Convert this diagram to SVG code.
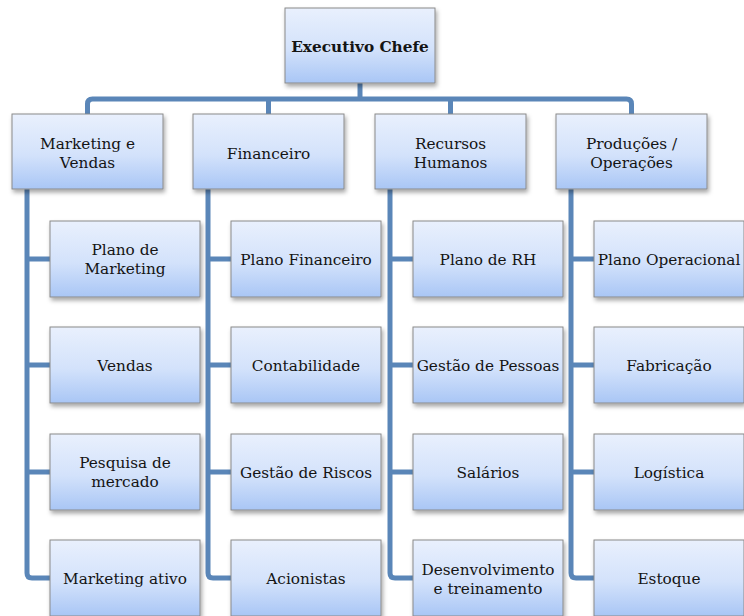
<svg xmlns="http://www.w3.org/2000/svg" width="744" height="616" viewBox="0 0 744 616">
  <style>
    .box { fill: url(#boxFill); stroke: #8a8a8a; stroke-width: 1; filter: url(#shadow); }
    .lbl { font-family: "DejaVu Serif", "Liberation Serif", serif; font-size: 15.3px; fill: #141414; text-anchor: middle; }
    .head { font-weight: bold; }
    .wire { fill: none; stroke: #5a86b8; stroke-width: 5; stroke-linejoin: round; stroke-linecap: butt; }
  </style>
  <defs>
    <linearGradient id="boxFill" x1="0" y1="0" x2="0" y2="1">
      <stop offset="0" stop-color="#e9f0fd"/>
      <stop offset="0.55" stop-color="#d3e2fb"/>
      <stop offset="1" stop-color="#a9c6f5"/>
    </linearGradient>
    <filter id="shadow" x="-10%" y="-10%" width="125%" height="130%">
      <feDropShadow dx="1.5" dy="3" stdDeviation="2" flood-color="#000" flood-opacity="0.35"/>
    </filter>
  </defs>
  <rect width="744" height="616" fill="#ffffff"/>

  <!-- connectors -->
  <g id="connectors">
    <path class="wire" d="M360,83 V99"/>
    <path class="wire" d="M87.5,114 V104 Q87.5,99 92.5,99 H626.5 Q631.5,99 631.5,104 V114"/>
    <path class="wire" d="M268.5,99 V114"/>
    <path class="wire" d="M450.5,99 V114"/>
    <!-- column trunks -->
    <path class="wire" d="M27,189 V573 Q27,578 32,578 H50"/>
    <path class="wire" d="M208,189 V573 Q208,578 213,578 H231"/>
    <path class="wire" d="M390,189 V573 Q390,578 395,578 H413"/>
    <path class="wire" d="M571,189 V573 Q571,578 576,578 H594"/>
    <!-- branches -->
    <path class="wire" d="M27,259 H50 M27,365 H50 M27,472 H50"/>
    <path class="wire" d="M208,259 H231 M208,365 H231 M208,472 H231"/>
    <path class="wire" d="M390,259 H413 M390,365 H413 M390,472 H413"/>
    <path class="wire" d="M571,259 H594 M571,365 H594 M571,472 H594"/>
  </g>

  <!-- top -->
  <g id="executivo-chefe">
    <rect class="box" x="285" y="8" width="150" height="75"/>
    <text class="lbl head" x="360" y="52">Executivo Chefe</text>
  </g>

  <!-- departments -->
  <g id="marketing-vendas">
    <rect class="box" x="12" y="114" width="151" height="75"/>
    <text class="lbl" x="87.5" y="149">Marketing e</text>
    <text class="lbl" x="87.5" y="168">Vendas</text>
  </g>
  <g id="financeiro">
    <rect class="box" x="193" y="114" width="151" height="75"/>
    <text class="lbl" x="268.5" y="159">Financeiro</text>
  </g>
  <g id="recursos-humanos">
    <rect class="box" x="375" y="114" width="151" height="75"/>
    <text class="lbl" x="450.5" y="149">Recursos</text>
    <text class="lbl" x="450.5" y="168">Humanos</text>
  </g>
  <g id="producoes-operacoes">
    <rect class="box" x="556" y="114" width="151" height="75"/>
    <text class="lbl" x="631.5" y="149">Produções /</text>
    <text class="lbl" x="631.5" y="168">Operações</text>
  </g>

  <!-- Marketing e Vendas -->
  <g id="plano-marketing">
    <rect class="box" x="50" y="221" width="150" height="76"/>
    <text class="lbl" x="125" y="255">Plano de</text>
    <text class="lbl" x="125" y="274">Marketing</text>
  </g>
  <g id="vendas">
    <rect class="box" x="50" y="327" width="150" height="76"/>
    <text class="lbl" x="125" y="371">Vendas</text>
  </g>
  <g id="pesquisa-mercado">
    <rect class="box" x="50" y="434" width="150" height="76"/>
    <text class="lbl" x="125" y="468">Pesquisa de</text>
    <text class="lbl" x="125" y="487">mercado</text>
  </g>
  <g id="marketing-ativo">
    <rect class="box" x="50" y="540" width="150" height="76"/>
    <text class="lbl" x="125" y="584">Marketing ativo</text>
  </g>

  <!-- Financeiro -->
  <g id="plano-financeiro">
    <rect class="box" x="231" y="221" width="150" height="76"/>
    <text class="lbl" x="306" y="265">Plano Financeiro</text>
  </g>
  <g id="contabilidade">
    <rect class="box" x="231" y="327" width="150" height="76"/>
    <text class="lbl" x="306" y="371">Contabilidade</text>
  </g>
  <g id="gestao-riscos">
    <rect class="box" x="231" y="434" width="150" height="76"/>
    <text class="lbl" x="306" y="478">Gestão de Riscos</text>
  </g>
  <g id="acionistas">
    <rect class="box" x="231" y="540" width="150" height="76"/>
    <text class="lbl" x="306" y="584">Acionistas</text>
  </g>

  <!-- Recursos Humanos -->
  <g id="plano-rh">
    <rect class="box" x="413" y="221" width="150" height="76"/>
    <text class="lbl" x="488" y="265">Plano de RH</text>
  </g>
  <g id="gestao-pessoas">
    <rect class="box" x="413" y="327" width="150" height="76"/>
    <text class="lbl" x="488" y="371">Gestão de Pessoas</text>
  </g>
  <g id="salarios">
    <rect class="box" x="413" y="434" width="150" height="76"/>
    <text class="lbl" x="488" y="478">Salários</text>
  </g>
  <g id="desenvolvimento">
    <rect class="box" x="413" y="540" width="150" height="76"/>
    <text class="lbl" x="488" y="575">Desenvolvimento</text>
    <text class="lbl" x="488" y="594">e treinamento</text>
  </g>

  <!-- Produções / Operações -->
  <g id="plano-operacional">
    <rect class="box" x="594" y="221" width="150" height="76"/>
    <text class="lbl" x="669" y="265">Plano Operacional</text>
  </g>
  <g id="fabricacao">
    <rect class="box" x="594" y="327" width="150" height="76"/>
    <text class="lbl" x="669" y="371">Fabricação</text>
  </g>
  <g id="logistica">
    <rect class="box" x="594" y="434" width="150" height="76"/>
    <text class="lbl" x="669" y="478">Logística</text>
  </g>
  <g id="estoque">
    <rect class="box" x="594" y="540" width="150" height="76"/>
    <text class="lbl" x="669" y="584">Estoque</text>
  </g>
</svg>
